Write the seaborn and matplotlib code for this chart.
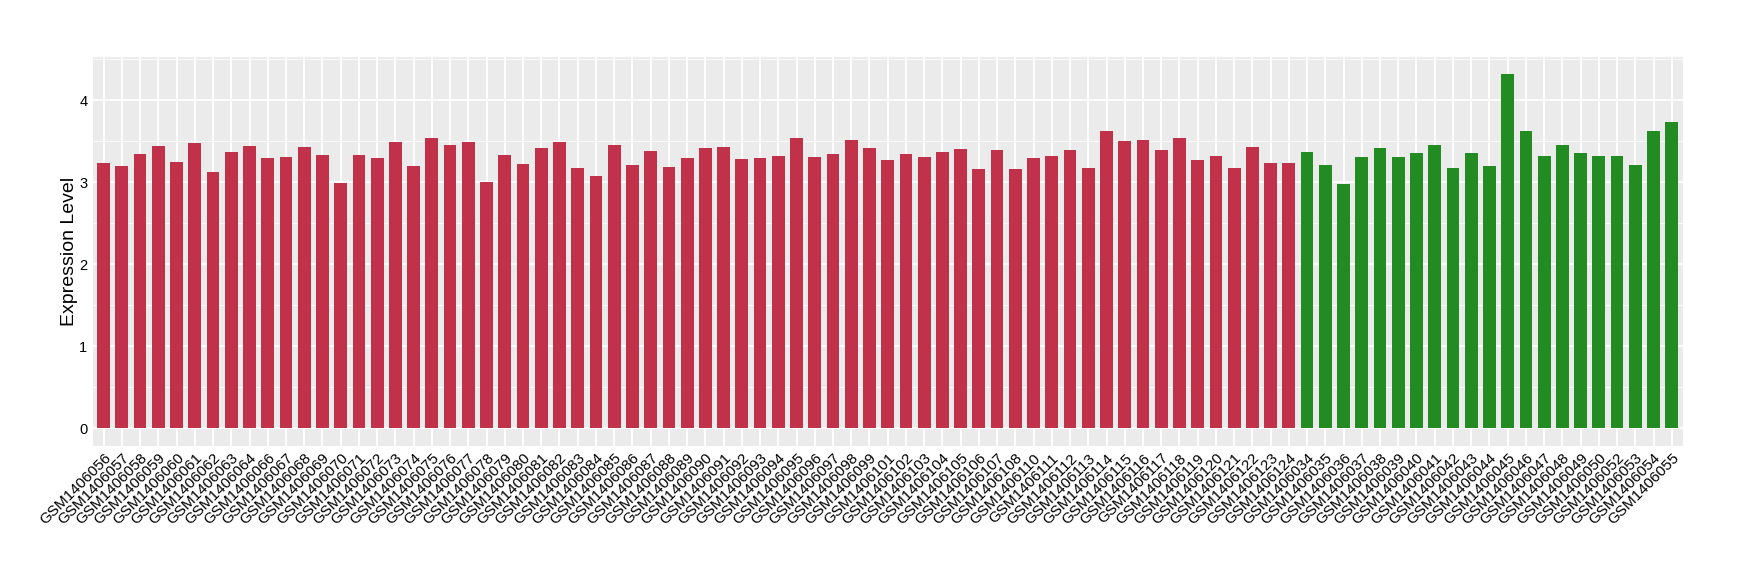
import pandas as pd
import matplotlib.pyplot as plt
import seaborn as sns

# sample ids (tumour group first, then normal group)
red_samples = ["GSM1406056", "GSM1406057", "GSM1406058", "GSM1406059", "GSM1406060",
               "GSM1406061", "GSM1406062", "GSM1406063", "GSM1406064", "GSM1406066",
               "GSM1406067", "GSM1406068", "GSM1406069", "GSM1406070", "GSM1406071",
               "GSM1406072", "GSM1406073", "GSM1406074", "GSM1406075", "GSM1406076",
               "GSM1406077", "GSM1406078", "GSM1406079", "GSM1406080", "GSM1406081",
               "GSM1406082", "GSM1406083", "GSM1406084", "GSM1406085", "GSM1406086",
               "GSM1406087", "GSM1406088", "GSM1406089", "GSM1406090", "GSM1406091",
               "GSM1406092", "GSM1406093", "GSM1406094", "GSM1406095", "GSM1406096",
               "GSM1406097", "GSM1406098", "GSM1406099", "GSM1406101", "GSM1406102",
               "GSM1406103", "GSM1406104", "GSM1406105", "GSM1406106", "GSM1406107",
               "GSM1406108", "GSM1406110", "GSM1406111", "GSM1406112", "GSM1406113",
               "GSM1406114", "GSM1406115", "GSM1406116", "GSM1406117", "GSM1406118",
               "GSM1406119", "GSM1406120", "GSM1406121", "GSM1406122", "GSM1406123",
               "GSM1406124"]
red_values = [3.23, 3.20, 3.35, 3.44, 3.25, 3.48, 3.12, 3.37, 3.44, 3.29,
              3.31, 3.43, 3.33, 2.99, 3.33, 3.29, 3.49, 3.20, 3.54, 3.46,
              3.49, 3.00, 3.33, 3.22, 3.42, 3.49, 3.17, 3.07, 3.46, 3.21,
              3.38, 3.18, 3.29, 3.42, 3.43, 3.28, 3.29, 3.32, 3.54, 3.31,
              3.35, 3.52, 3.42, 3.27, 3.34, 3.31, 3.37, 3.40, 3.16, 3.39,
              3.16, 3.29, 3.32, 3.39, 3.17, 3.63, 3.50, 3.51, 3.39, 3.54,
              3.27, 3.32, 3.17, 3.43, 3.23, 3.23]

green_samples = ["GSM1406034", "GSM1406035", "GSM1406036", "GSM1406037", "GSM1406038",
                 "GSM1406039", "GSM1406040", "GSM1406041", "GSM1406042", "GSM1406043",
                 "GSM1406044", "GSM1406045", "GSM1406046", "GSM1406047", "GSM1406048",
                 "GSM1406049", "GSM1406050", "GSM1406052", "GSM1406053", "GSM1406054",
                 "GSM1406055"]
green_values = [3.37, 3.21, 2.98, 3.31, 3.42, 3.31, 3.36, 3.45, 3.17, 3.36,
                3.20, 4.32, 3.62, 3.32, 3.46, 3.36, 3.32, 3.32, 3.21, 3.63,
                3.73]

df = pd.DataFrame({
    "sample": red_samples + green_samples,
    "value": red_values + green_values,
    "group": ["red"] * len(red_samples) + ["green"] * len(green_samples),
})
order = red_samples + green_samples

sns.set_theme(style="darkgrid", rc={
    "axes.facecolor": "#EBEBEB",
    "grid.color": "white",
    "axes.edgecolor": "#EBEBEB",
})
plt.rcParams["font.family"] = ["Liberation Sans", "DejaVu Sans"]

fig = plt.figure(figsize=(17.4, 5.8), dpi=100)
ax = fig.add_axes([0.05328, 0.23155, 0.91379, 0.67069])

sns.barplot(data=df, x="sample", y="value", hue="group", order=order,
            palette={"red": "#C2314A", "green": "#228B22"}, saturation=1,
            width=0.7, dodge=False, legend=False, linewidth=0, edgecolor="none",
            ax=ax, zorder=3)

ax.set_xlim(-0.6, len(order) - 0.4)
ax.set_ylim(-0.216, 4.532)
ax.set_yticks([0, 1, 2, 3, 4])
ax.set_yticks([0.5, 1.5, 2.5, 3.5, 4.5], minor=True)
ax.grid(True, which="major", color="white", linewidth=1.3, zorder=0)
ax.grid(True, which="minor", axis="y", color="white", linewidth=0.6, zorder=0)
ax.set_axisbelow(True)
for s in ax.spines.values():
    s.set_visible(False)

ax.tick_params(axis="both", which="major", length=2.6, width=1, color="#333333",
               labelcolor="black", pad=1.2)
ax.tick_params(axis="x", labelsize=11)
ax.tick_params(axis="y", labelsize=10.5)
ax.tick_params(axis="y", which="minor", length=0)
plt.setp(ax.get_xticklabels(), rotation=45, ha="right", va="top",
         rotation_mode="anchor")

ax.set_xlabel("")
ax.set_ylabel("Expression Level", fontsize=14, color="black", labelpad=1)

plt.savefig("out.png", dpi=100)
plt.close()
